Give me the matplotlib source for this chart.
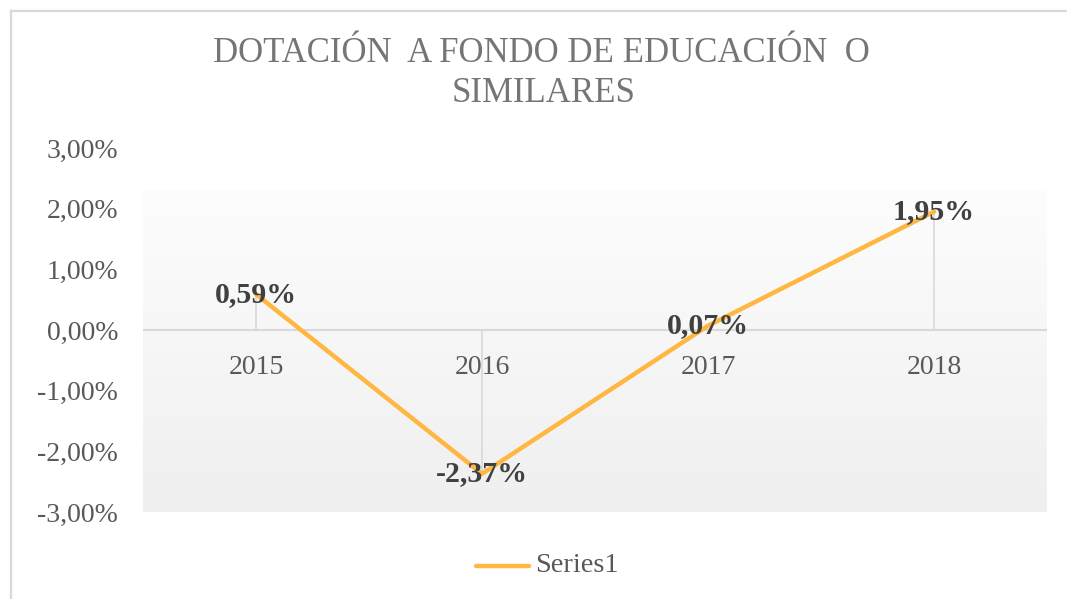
import numpy as np
import matplotlib
matplotlib.use("Agg")
import matplotlib.pyplot as plt
from matplotlib.lines import Line2D
from matplotlib.colors import LinearSegmentedColormap

categories = ["2015", "2016", "2017", "2018"]
values = [0.59, -2.37, 0.07, 1.95]
yticks = [3, 2, 1, 0, -1, -2, -3]
ytick_labels = ["3,00%", "2,00%", "1,00%", "0,00%", "-1,00%", "-2,00%", "-3,00%"]
data_labels = ["0,59%", "-2,37%", "0,07%", "1,95%"]
title_lines = ["DOTACIÓN  A FONDO DE EDUCACIÓN  O", "SIMILARES"]
series_name = "Series1"

W, H = 1067, 599
plt.rcParams['font.family'] = ['Liberation Serif', 'DejaVu Serif']
fig = plt.figure(figsize=(W / 100, H / 100), dpi=100)
fig.patch.set_facecolor("white")

# chart border (top & left visible)
fig.add_artist(Line2D([11 / W, 11 / W], [0, 1 - 11 / H], color="#d9d9d9", lw=1.6))
fig.add_artist(Line2D([11 / W, 1], [1 - 11 / H, 1 - 11 / H], color="#d9d9d9", lw=1.6))

left, right, bottom_px, top_px = 143, 1047, 512, 148
ax = fig.add_axes([left / W, 1 - bottom_px / H, (right - left) / W, (bottom_px - top_px) / H])
ax.set_xlim(0, len(categories))
ax.set_ylim(-3, 3)
ax.patch.set_alpha(0)
for s in ax.spines.values():
    s.set_visible(False)

# gradient plot-area fill
grad = np.linspace(0, 1, 256).reshape(-1, 1)
cmap = LinearSegmentedColormap.from_list("g", ["#fdfdfd", "#efefef"])
ax.imshow(grad, extent=[0, len(categories), -3, 2.3], aspect="auto", cmap=cmap,
          origin="upper", zorder=0)

x = np.arange(len(categories)) + 0.5
ax.axhline(0, color="#d9d9d9", lw=1.5, zorder=1)
ax.vlines(x, 0, values, color="#d9d9d9", lw=1.2, zorder=1)

ax.plot(x, values, color="#ffb742", lw=3.2, solid_capstyle="round", zorder=3)

for xi, v, lab in zip(x, values, data_labels):
    ax.text(xi, v, lab, ha="center", va="center", fontsize=21.5, fontweight="bold",
            color="#404040", zorder=4)

for xi, c in zip(x, categories):
    ax.text(xi, -0.62, c, ha="center", va="center", fontsize=20, color="#595959")

ax.set_xticks([])
ax.set_yticks(yticks)
ax.set_yticklabels(ytick_labels, fontsize=20, color="#595959")
ax.tick_params(axis="y", length=0, pad=18)

fig.text(541 / W, 1 - 53 / H, title_lines[0], ha="center", va="center", fontsize=25, color="#757575")
fig.text(544 / W, 1 - 93 / H, title_lines[1], ha="center", va="center", fontsize=25, color="#757575")

# legend
fig.add_artist(Line2D([476 / W, 529 / W], [1 - 566 / H, 1 - 566 / H], color="#ffb742", lw=3.2,
                      solid_capstyle="round"))
fig.text(535 / W, 1 - 566 / H, series_name, ha="left", va="center", fontsize=20.5, color="#595959")

fig.savefig("out.png", dpi=100)
